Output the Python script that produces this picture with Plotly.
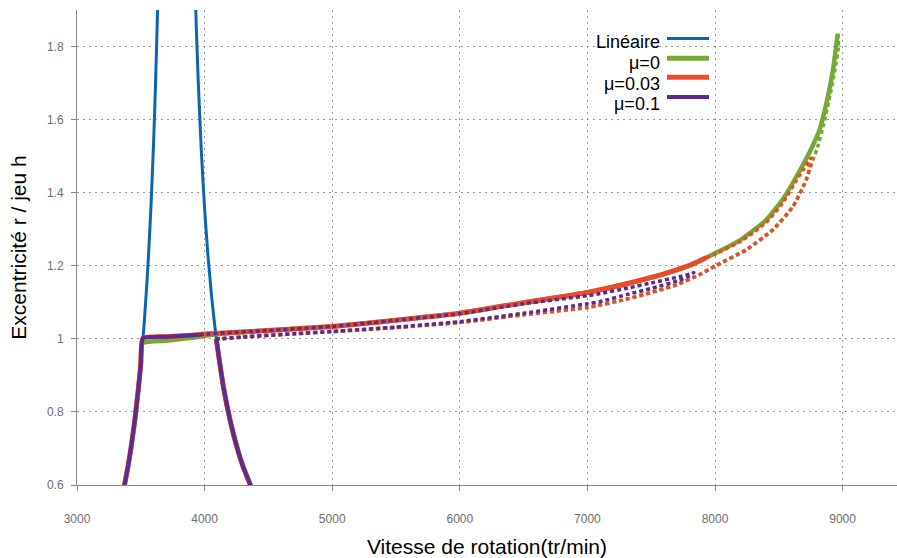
import plotly.graph_objects as go

# ---------------- data ----------------
# Linear response: left branch (below resonance) and right branch (above)
lin_left_N = [3360, 3400, 3420, 3450, 3480, 3500, 3517, 3530, 3550, 3565, 3580, 3600, 3610, 3620, 3630, 3640]
lin_left_r = [0.577, 0.651, 0.694, 0.769, 0.860, 0.931, 1.000, 1.060, 1.165, 1.258, 1.365, 1.536, 1.638, 1.753, 1.884, 2.036]
lin_right_N = [3900, 3910, 3920, 3935, 3950, 3975, 4000, 4025, 4050, 4070, 4092, 4100, 4150, 4200, 4250, 4300, 4380]
lin_right_r = [2.328, 2.167, 2.029, 1.853, 1.706, 1.510, 1.357, 1.234, 1.134, 1.066, 1.000, 0.979, 0.864, 0.777, 0.708, 0.652, 0.582]

# Contact branches, mu = 0
mu0_stable_N = [3514, 3700, 3900, 4100, 4500, 5000, 5500, 6000, 6500, 7000, 7300, 7500, 7700, 7820, 7930,
                8000, 8200, 8400, 8530, 8640, 8740, 8820, 8885, 8925, 8962]
mu0_stable_r = [0.988, 0.995, 1.003, 1.013, 1.023, 1.034, 1.051, 1.070, 1.099, 1.127, 1.150, 1.168, 1.189, 1.204, 1.222,
                1.234, 1.271, 1.325, 1.381, 1.445, 1.510, 1.573, 1.664, 1.737, 1.835]
mu0_unstable_N = [8962, 8968, 8940, 8900, 8850, 8800, 8768, 8716, 8611, 8455, 8246, 8005, 7880, 7700, 7500,
                  7300, 7000, 6500, 6000, 5500, 5000, 4700, 4300, 4092]
mu0_unstable_r = [1.835, 1.800, 1.737, 1.664, 1.585, 1.520, 1.490, 1.436, 1.362, 1.299, 1.244, 1.200, 1.176, 1.148, 1.127,
                  1.108, 1.086, 1.066, 1.045, 1.031, 1.020, 1.014, 1.005, 0.998]

# Contact branches, mu = 0.03
mu003_stable_N = [3517, 3700, 3900, 4000, 4500, 5000, 5500, 6000, 6500, 7000, 7300, 7500, 7700, 7820, 7930]
mu003_stable_r = [1.002, 1.006, 1.010, 1.013, 1.023, 1.034, 1.051, 1.070, 1.099, 1.127, 1.150, 1.168, 1.189, 1.204, 1.222]
mu003_unstable_N = [7930, 8000, 8200, 8400, 8530, 8640, 8700, 8735, 8752, 8740, 8716, 8611, 8455, 8246, 8005, 7880,
                    7700, 7500, 7300, 7000, 6500, 6000, 5500, 5000, 4700, 4300, 4092]
mu003_unstable_r = [1.222, 1.232, 1.267, 1.318, 1.372, 1.435, 1.468, 1.485, 1.495, 1.465, 1.436, 1.362, 1.299, 1.244, 1.200, 1.176,
                    1.148, 1.127, 1.108, 1.086, 1.066, 1.045, 1.031, 1.020, 1.014, 1.005, 1.000]

# Contact branches, mu = 0.1
mu01_stable_N = [3517, 3700, 3900, 3962]
mu01_stable_r = [1.002, 1.006, 1.010, 1.011]
mu01_unstable_N = [3962, 4000, 4500, 5000, 5500, 6000, 6500, 7000, 7100, 7330, 7500, 7720, 7800, 7835,
                   7800, 7720, 7500, 7330, 7100, 7000, 6500, 6000, 5500, 5000, 4700, 4300, 4092]
mu01_unstable_r = [1.011, 1.013, 1.023, 1.034, 1.051, 1.069, 1.096, 1.118, 1.124, 1.140, 1.153, 1.170, 1.177, 1.181,
                   1.173, 1.160, 1.138, 1.123, 1.102, 1.096, 1.070, 1.047, 1.032, 1.020, 1.014, 1.005, 1.000]

legend_labels = ["Linéaire", "μ=0", "μ=0.03", "μ=0.1"]
x_ticks = [3000, 4000, 5000, 6000, 7000, 8000, 9000]
y_ticks = [0.6, 0.8, 1.0, 1.2, 1.4, 1.6, 1.8]

# ---------------- styles ----------------
C_BLUE = "#0a66b0"
C_GREEN = "#76a836"
C_RED = "#eb4b28"
C_PURPLE = "#5c2b8e"
FONT = "Liberation Sans, Arial, sans-serif"

# shared no-contact branches (r <= 1)
low_left = [(n, r) for n, r in zip(lin_left_N, lin_left_r) if r < 0.99]
low_right = [(n, r) for n, r in zip(lin_right_N, lin_right_r) if r <= 1.0001]
ll_N = [p[0] for p in low_left]
ll_r = [p[1] for p in low_left]
lr_N = [p[0] for p in low_right]
lr_r = [p[1] for p in low_right]

fig = go.Figure()

# linear
fig.add_trace(go.Scatter(x=lin_left_N + [None] + lin_right_N, y=lin_left_r + [None] + lin_right_r,
                         mode="lines", line=dict(color=C_BLUE, width=3, shape="spline", smoothing=0.6),
                         name=legend_labels[0], showlegend=False, connectgaps=False))

def add_curve(stable_N, stable_r, unst_N, unst_r, color, w_solid, w_dot):
    fig.add_trace(go.Scatter(x=ll_N + stable_N, y=ll_r + stable_r,
                             mode="lines", line=dict(color=color, width=w_solid, shape="spline", smoothing=0.5),
                             showlegend=False))
    fig.add_trace(go.Scatter(x=lr_N, y=lr_r,
                             mode="lines", line=dict(color=color, width=w_solid, shape="spline", smoothing=0.6),
                             showlegend=False))
    fig.add_trace(go.Scatter(x=unst_N, y=unst_r, mode="lines",
                             line=dict(color=color, width=w_dot, dash="4px,3px", shape="spline", smoothing=0.5),
                             showlegend=False))

add_curve(mu0_stable_N, mu0_stable_r, mu0_unstable_N, mu0_unstable_r, C_GREEN, 4.5, 3.5)
add_curve(mu003_stable_N, mu003_stable_r, mu003_unstable_N, mu003_unstable_r, C_RED, 5, 3.5)
add_curve(mu01_stable_N, mu01_stable_r, mu01_unstable_N, mu01_unstable_r, C_PURPLE, 4, 3.5)

# ---------------- layout ----------------
W, H = 897, 558
ML, MR, MT, MB = 77, 0, 10, 73
pw, ph = W - ML - MR, H - MT - MB

def px(x):  # pixel x -> paper
    return (x - ML) / pw

def py(y):  # pixel y -> paper
    return (H - MB - y) / ph

leg_text_y = [42.5, 63.0, 83.5, 104.0]
leg_line_y = [38.5, 58.3, 77.3, 97.0]
leg_colors = [C_BLUE, C_GREEN, C_RED, C_PURPLE]
leg_widths = [3, 5, 5, 4]
for lab, ty, ly, col, lw in zip(legend_labels, leg_text_y, leg_line_y, leg_colors, leg_widths):
    fig.add_annotation(x=px(661), y=py(ty), xref="paper", yref="paper", text=lab, showarrow=False,
                       xanchor="right", yanchor="middle", borderpad=0,
                       font=dict(family=FONT, size=18, color="#000"))
    fig.add_shape(type="line", xref="paper", yref="paper", x0=px(667), x1=px(709), y0=py(ly), y1=py(ly),
                  line=dict(color=col, width=lw))

axis_common = dict(showline=True, linecolor="#8a8a8a", linewidth=1, ticks="outside", ticklen=5,
                   tickcolor="#8a8a8a", showgrid=True, gridcolor="#9a9a9a", gridwidth=1, griddash="2px,4px",
                   zeroline=False, automargin=False,
                   tickfont=dict(family=FONT, size=12, color="#6e6e6e"))

fig.update_xaxes(range=[3000, 3000 + pw / 127.6 * 1000], tickvals=x_ticks, ticklabelstandoff=18,
                 title=dict(text="Vitesse de rotation(tr/min)", standoff=14,
                            font=dict(family=FONT, size=21, color="#000")),
                 **axis_common)
fig.update_yaxes(range=[0.6, 1.9], tickvals=y_ticks, ticktext=["0.6", "0.8", "1", "1.2", "1.4", "1.6", "1.8"],
                 ticklabelstandoff=5,
                 title=dict(text="Excentricité r / jeu h", standoff=14,
                            font=dict(family=FONT, size=21, color="#000")),
                 **axis_common)

fig.update_layout(width=W, height=H, margin=dict(l=ML, r=MR, t=MT, b=MB, autoexpand=False),
                  plot_bgcolor="white", paper_bgcolor="white", showlegend=False)

fig.write_html("out.html", config={"displayModeBar": False},
               post_script="document.body.style.margin='0';document.body.style.overflow='hidden';")
